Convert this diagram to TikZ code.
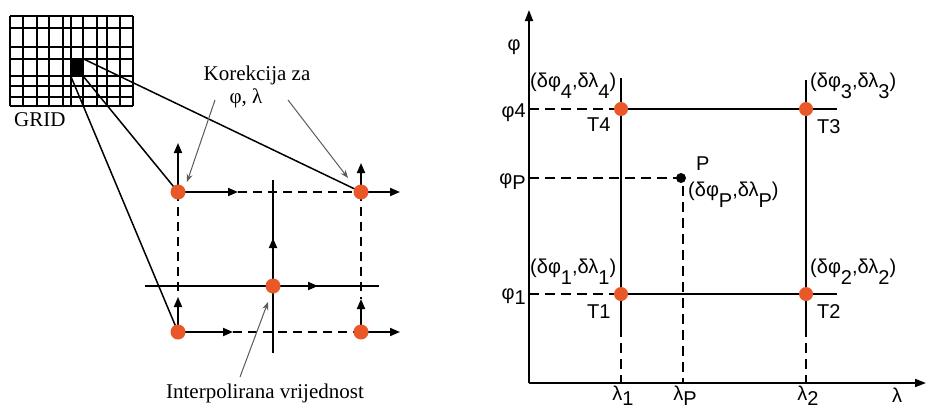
\documentclass[tikz,border=0pt]{standalone}
\usepackage{fontspec}
\setmainfont{Liberation Serif}
\newfontfamily\sansf{Liberation Sans}
\usetikzlibrary{arrows.meta}
\definecolor{dotorange}{RGB}{232,88,40}
\newcommand{\lo}[1]{\raisebox{-0.55em}{#1}}
\newcommand{\slo}[1]{\raisebox{-0.25em}{#1}}
\begin{document}
\begin{tikzpicture}[x=1pt,y=-1pt,
  ln/.style={line width=1.8pt},
  vec/.style={line width=1.8pt,-{Triangle[length=10pt,width=8pt]}},
  dsh/.style={line width=1.8pt,dash pattern=on 9pt off 6pt},
  dot/.style={circle,fill=dotorange,inner sep=0pt,minimum size=15pt},
  rdot/.style={circle,fill=dotorange,inner sep=0pt,minimum size=14pt},
  note/.style={gray!70!black,line width=1pt,-{Stealth[length=8pt,width=6pt]}},
  serif/.style={font=\fontsize{21}{23}\selectfont,inner sep=0pt},
  sl/.style={font=\sansf\fontsize{20}{22}\selectfont,inner sep=0pt},
  axis/.style={line width=1.8pt,-{Triangle[length=11pt,width=8pt]}},
  rdsh/.style={line width=1.8pt,dash pattern=on 10pt off 6pt}
]
\useasboundingbox (0,0) rectangle (927,410);

% ---------- grid ----------
\foreach \x in {10,23,37,49,63,71,83,97,107,120,133} \draw[ln] (\x,16) -- (\x,106);
\foreach \y in {16,28,47,59,76,86,97,106} \draw[ln] (10,\y) -- (133,\y);
\node[fill=black,inner sep=0pt,minimum width=12pt,minimum height=17pt] (sq) at (77,67.5) {};
\node[serif,anchor=base west] (grid) at (14,126) {GRID};

% ---------- left points ----------
\coordinate (A) at (178,192);
\coordinate (B) at (361,192);
\coordinate (C) at (178,332);
\coordinate (D) at (361,332);
\coordinate (E) at (273,286);

\draw[line width=1.5pt] (sq.south east) -- (A);
\draw[line width=1.5pt] (sq.north east) -- (B);
\draw[line width=1.5pt] (sq.south west) -- (C);

% dashed rectangle
\coordinate (Ar) at (238,192);
\coordinate (Cr) at (233,332);
\coordinate (Cu) at (178,297);
\coordinate (Du) at (361,299);
\draw[dsh] (Ar) -- (B);
\draw[dsh] (Cr) -- (D);
\draw[dsh] (A) -- (Cu);
\draw[dsh] (B) -- (Du);

% cross through E
\coordinate (Hl) at (145,286);
\coordinate (Hr) at (379,286);
\coordinate (Vt) at (273,180);
\coordinate (Vb) at (273,353);
\draw[ln] (Hl) -- (Hr);
\draw[ln] (Vt) -- (Vb);
\coordinate (Ex) at (318,286);
\coordinate (Ey) at (273,238);
\draw[vec] (E) -- (Ex);
\draw[vec] (E) -- (Ey);

% vectors
\coordinate (Au) at (178,143);
\coordinate (Bu) at (361,163);
\coordinate (Br) at (400,192);
\coordinate (Dr) at (400,332);
\draw[vec] (A) -- (Au);
\draw[vec] (A) -- (Ar);
\draw[vec] (B) -- (Bu);
\draw[vec] (B) -- (Br);
\draw[vec] (C) -- (Cu);
\draw[vec] (C) -- (Cr);
\draw[vec] (D) -- (Du);
\draw[vec] (D) -- (Dr);

\node[dot] (nA) at (A) {};
\node[dot] (nB) at (B) {};
\node[dot] (nC) at (C) {};
\node[dot] (nD) at (D) {};
\node[dot] (nE) at (E) {};

% annotations
\node[serif,anchor=base] (kor) at (257,80) {Korekcija za};
\node[serif,anchor=base] (fl) at (246,103) {φ, λ};
\node[serif,anchor=base] (interp) at (265,398) {Interpolirana vrijednost};
\coordinate (k1) at (215,100);
\coordinate (k1e) at (187,182);
\coordinate (k2) at (288,100);
\coordinate (k2e) at (348,178);
\coordinate (i1) at (240,377);
\coordinate (i1e) at (268,302);
\draw[note] (k1) -- (k1e);
\draw[note] (k2) -- (k2e);
\draw[note] (i1) -- (i1e);

% ---------- right diagram ----------
\coordinate (O) at (529,383);
\coordinate (Ytop) at (529,10);
\coordinate (Xend) at (926,383);
\draw[axis] (O) -- (Ytop);
\draw[axis] (O) -- (Xend);

\coordinate (T1) at (621,294);
\coordinate (T2) at (806,294);
\coordinate (T3) at (806,109);
\coordinate (T4) at (621,109);
\coordinate (P) at (681,178);

% solid grid lines
\coordinate (L1t) at (621,78);
\coordinate (L1m) at (621,327);
\coordinate (L2t) at (806,80);
\coordinate (L2m) at (806,327);
\coordinate (H4r) at (837,109);
\coordinate (H1r) at (837,294);
\draw[ln] (L1t) -- (L1m);
\draw[ln] (L2t) -- (L2m);
\draw[ln] (T4) -- (H4r);
\draw[ln] (T1) -- (H1r);

% dashed
\coordinate (L1b) at (621,383);
\coordinate (L2b) at (806,383);
\coordinate (y4) at (529,109);
\coordinate (y1) at (529,294);
\coordinate (yP) at (529,178);
\coordinate (Pb) at (683,383);
\coordinate (Pd) at (683,186);
\draw[rdsh] (L1m) -- (L1b);
\draw[rdsh] (L2m) -- (L2b);
\draw[rdsh] (y4) -- (T4);
\draw[rdsh] (y1) -- (T1);
\draw[rdsh] (yP) -- (P);
\draw[rdsh] (Pd) -- (Pb);

\node[rdot] (nT1) at (T1) {};
\node[rdot] (nT2) at (T2) {};
\node[rdot] (nT3) at (T3) {};
\node[rdot] (nT4) at (T4) {};
\node[circle,fill=black,inner sep=0pt,minimum size=10pt] (nP) at (P) {};

% labels
\node[sl,anchor=base] (phi) at (514,50) {φ};
\node[sl,anchor=base east] (phi4) at (526,117) {φ4};
\node[sl,anchor=base east] (phiP) at (526,184) {φ\slo{P}};
\node[sl,anchor=base east] (phi1) at (526,299) {φ\slo{1}};

\node[sl,anchor=base west] (d4) at (530,87) {(δφ\lo{4},δλ\lo{4})};
\node[sl,anchor=base west] (d3) at (810,87) {(δφ\lo{3},δλ\lo{3})};
\node[sl,anchor=base west] (d1) at (530,273) {(δφ\lo{1},δλ\lo{1})};
\node[sl,anchor=base west] (d2) at (810,273) {(δφ\lo{2},δλ\lo{2})};
\node[sl,anchor=base west] (pl) at (696,170) {P};
\node[sl,anchor=base west] (dP) at (688,196) {(δφ\lo{P},δλ\lo{P})};

\node[sl,anchor=base west] (t4) at (587,131) {T4};
\node[sl,anchor=base west] (t3) at (817,133) {T3};
\node[sl,anchor=base west] (t1) at (587,318) {T1};
\node[sl,anchor=base west] (t2) at (817,318) {T2};

\node[sl,anchor=base] (la1) at (623,400) {λ\slo{1}};
\node[sl,anchor=base] (laP) at (685,400) {λ\slo{P}};
\node[sl,anchor=base] (la2) at (808,400) {λ\slo{2}};
\node[sl,anchor=base] (la) at (897,402) {λ};
\end{tikzpicture}
\end{document}
